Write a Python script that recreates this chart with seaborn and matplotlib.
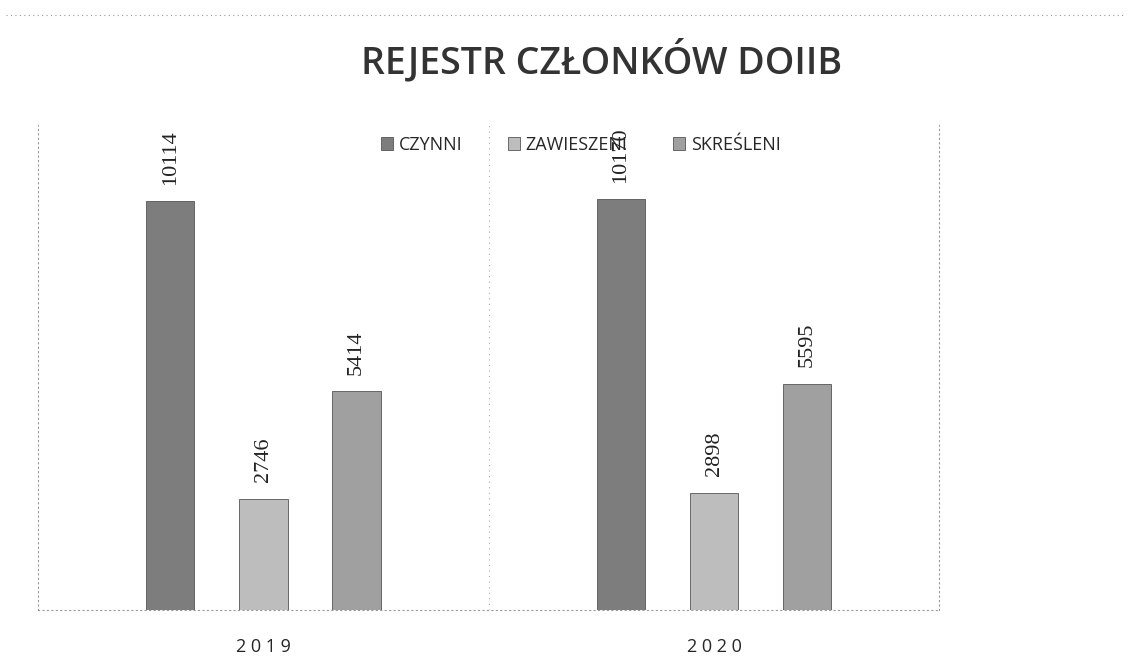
import pandas as pd
import seaborn as sns
import matplotlib.pyplot as plt

# %%
years = ["2019", "2020"]
statuses = ["CZYNNI", "ZAWIESZENI", "SKREŚLENI"]
czynni = [10114, 10170]
zawieszeni = [2746, 2898]
skresleni = [5414, 5595]
colors = ["#7d7d7d", "#bdbdbd", "#a0a0a0"]

df = pd.DataFrame({
    "rok": years * 3,
    "status": [s for s in statuses for _ in years],
    "liczba": czynni + zawieszeni + skresleni,
})

# %%
sns.set_style("white")
plt.rcParams["font.family"] = ["Open Sans", "DejaVu Sans"]

fig = plt.figure(figsize=(11.31, 6.63), dpi=100)
ax = fig.add_axes([0.0336, 0.080, 0.797, 0.731])

sns.barplot(data=df, x="rok", y="liczba", hue="status", hue_order=statuses,
            palette=colors, width=0.62, gap=0.48, ax=ax,
            edgecolor="#555555", linewidth=0.6)

for cont in ax.containers:
    ax.bar_label(cont, rotation=90, padding=12, fontsize=16,
                 family="Liberation Serif", color="#222222")

ax.set_ylim(0, 12000)
ax.set_xlim(-0.5, 1.5)
ax.set_yticks([])
ax.set_xlabel("")
ax.set_ylabel("")
ax.tick_params(axis="x", length=0, pad=20, labelsize=13)
ax.set_xticks([0, 1], [" ".join(y) for y in years])

for side in ["left", "bottom", "right"]:
    ax.spines[side].set_linestyle((0, (1, 3)))
    ax.spines[side].set_color("#999999")
    ax.spines[side].set_linewidth(0.8)
ax.spines["top"].set_visible(False)
ax.axvline(0.5, color="#aaaaaa", lw=0.8, ls=(0, (1, 4)))

ax.legend(loc="upper center", bbox_to_anchor=(0.602, 1.012), ncol=3, frameon=False,
          fontsize=13, handlelength=0.7, handleheight=0.7, handletextpad=0.3,
          columnspacing=2.5)

fig.text(0.532, 0.908, "REJESTR CZŁONKÓW DOIIB", ha="center", va="center",
         fontsize=27, fontweight="semibold", color="#333333")
fig.add_artist(plt.Line2D([0.005, 0.995], [0.977, 0.977], color="#999999",
                          lw=0.8, ls=(0, (1, 3))))

fig.savefig("out.png", dpi=100)
